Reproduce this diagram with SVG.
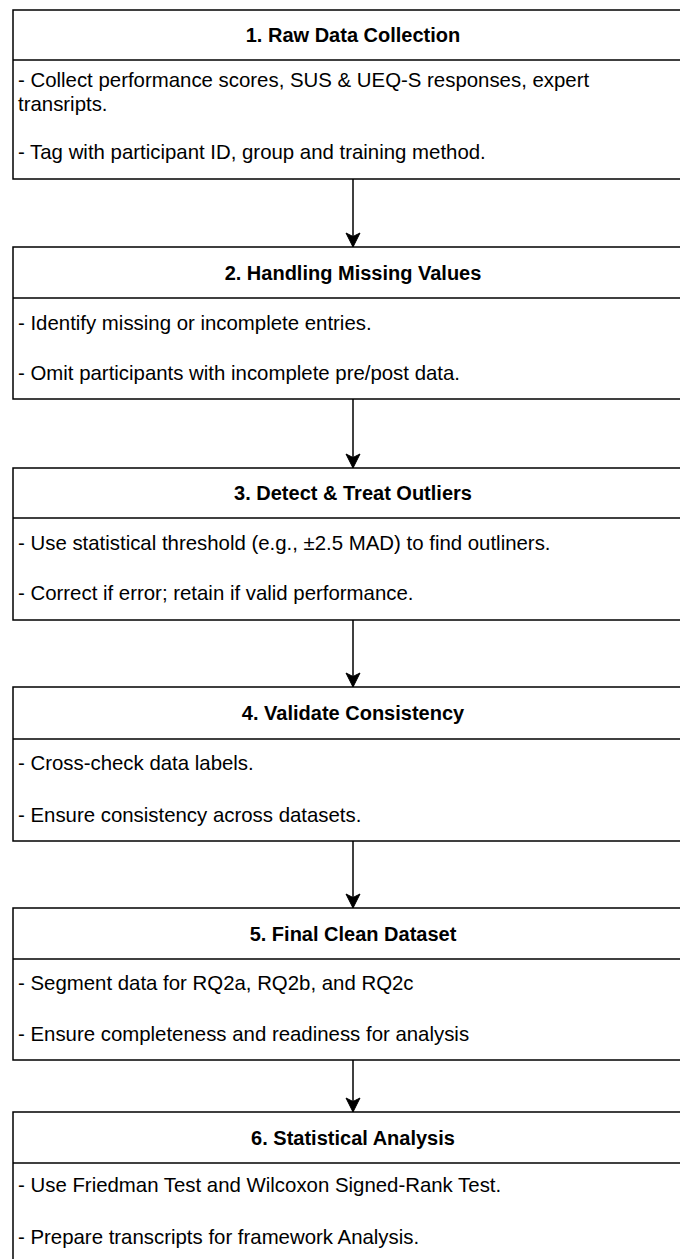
<svg xmlns="http://www.w3.org/2000/svg" width="680" height="1259" viewBox="0 0 680 1259">
<style>
.box{fill:#fff;stroke:#000;stroke-width:1.5}
.div{stroke:#000;stroke-width:1.5}
.t{font-family:"Liberation Sans",Arial,sans-serif;font-size:20px;font-weight:bold;fill:#000;text-anchor:middle}
.b{font-family:"Liberation Sans",Arial,sans-serif;font-size:20.4px;fill:#000}
.c{stroke:#000;stroke-width:1.5;fill:none}
</style>
<defs>
<marker id="ah" markerUnits="userSpaceOnUse" markerWidth="16" markerHeight="16" viewBox="0 0 16 16" refX="15" refY="8" orient="auto">
<path d="M15,8 L1,1 L4.5,8 L1,15 Z" fill="#000" stroke="#000" stroke-width="1"/>
</marker>
</defs>
<g id="connectors">
<line class="c" x1="353" y1="179" x2="353" y2="247" marker-end="url(#ah)"/>
<line class="c" x1="353" y1="399" x2="353" y2="468" marker-end="url(#ah)"/>
<line class="c" x1="353" y1="620" x2="353" y2="687" marker-end="url(#ah)"/>
<line class="c" x1="353" y1="841" x2="353" y2="908" marker-end="url(#ah)"/>
<line class="c" x1="353" y1="1060" x2="353" y2="1112" marker-end="url(#ah)"/>
</g>
<g id="node1">
<rect class="box" x="13" y="10" width="680" height="169"/>
<line class="div" x1="13" y1="60" x2="693" y2="60"/>
<text class="t" x="353" y="42">1. Raw Data Collection</text>
<text class="b" x="18" y="87">- Collect performance scores, SUS &amp; UEQ-S responses, expert</text>
<text class="b" x="18" y="111">transripts.</text>
<text class="b" x="18" y="159">- Tag with participant ID, group and training method.</text>
</g>
<g id="node2">
<rect class="box" x="13" y="247" width="680" height="152"/>
<line class="div" x1="13" y1="298" x2="693" y2="298"/>
<text class="t" x="353" y="280">2. Handling Missing Values</text>
<text class="b" x="18" y="330">- Identify missing or incomplete entries.</text>
<text class="b" x="18" y="380">- Omit participants with incomplete pre/post data.</text>
</g>
<g id="node3">
<rect class="box" x="13" y="468" width="680" height="152"/>
<line class="div" x1="13" y1="518" x2="693" y2="518"/>
<text class="t" x="353" y="500">3. Detect &amp; Treat Outliers</text>
<text class="b" x="18" y="550">- Use statistical threshold (e.g., ±2.5 MAD) to find outliners.</text>
<text class="b" x="18" y="600">- Correct if error; retain if valid performance.</text>
</g>
<g id="node4">
<rect class="box" x="13" y="687" width="680" height="154"/>
<line class="div" x1="13" y1="739" x2="693" y2="739"/>
<text class="t" x="353" y="720">4. Validate Consistency</text>
<text class="b" x="18" y="770">- Cross-check data labels.</text>
<text class="b" x="18" y="822">- Ensure consistency across datasets.</text>
</g>
<g id="node5">
<rect class="box" x="13" y="908" width="680" height="152"/>
<line class="div" x1="13" y1="959" x2="693" y2="959"/>
<text class="t" x="353" y="941">5. Final Clean Dataset</text>
<text class="b" x="18" y="990">- Segment data for RQ2a, RQ2b, and RQ2c</text>
<text class="b" x="18" y="1041">- Ensure completeness and readiness for analysis</text>
</g>
<g id="node6">
<rect class="box" x="13" y="1112" width="680" height="180"/>
<line class="div" x1="13" y1="1163" x2="693" y2="1163"/>
<text class="t" x="353" y="1145">6. Statistical Analysis</text>
<text class="b" x="18" y="1192">- Use Friedman Test and Wilcoxon Signed-Rank Test.</text>
<text class="b" x="18" y="1244">- Prepare transcripts for framework Analysis.</text>
</g>
</svg>
